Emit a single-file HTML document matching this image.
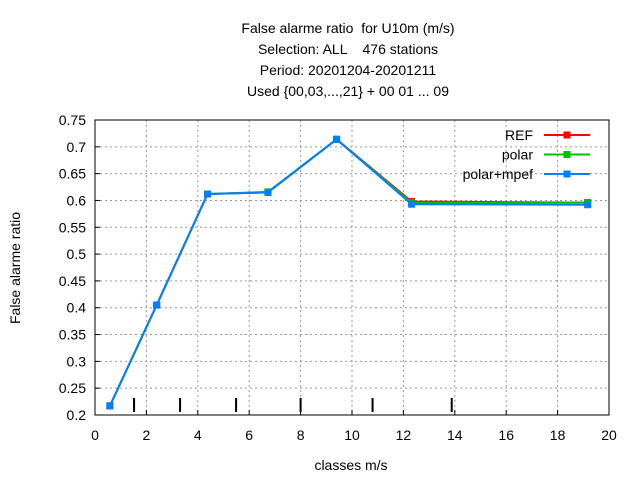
<!DOCTYPE html>
<html><head><meta charset="utf-8"><style>
body{margin:0;background:#fff;}
svg text{font-family:"Liberation Sans",sans-serif;font-size:14px;fill:#000;white-space:pre;}
</style></head><body>
<svg id="chart" width="640" height="480" xmlns="http://www.w3.org/2000/svg">
<rect width="640" height="480" fill="#fff"/>
<g text-anchor="middle">
<text x="348" y="33" xml:space="preserve">False alarme ratio  for U10m (m/s)</text>
<text x="348" y="54" xml:space="preserve">Selection: ALL    476 stations</text>
<text x="348" y="75">Period: 20201204-20201211</text>
<text x="348" y="96">Used {00,03,...,21} + 00 01 ... 09</text>
</g>
<g id="grid"></g>
<g id="axes"></g>
<g id="series"></g>
<g id="legend"></g>
<text x="351" y="470" text-anchor="middle">classes m/s</text>
<text transform="translate(20,268) rotate(-90)" text-anchor="middle">False alarme ratio</text>
</svg>
<script>
const xTicks=[0,2,4,6,8,10,12,14,16,18,20];
const yTicks=[0.2,0.25,0.3,0.35,0.4,0.45,0.5,0.55,0.6,0.65,0.7,0.75];
const classBounds=[1.52,3.31,5.49,8.0,10.8,13.88];
const xVals=[0.58,2.4,4.38,6.73,9.4,12.32,19.17];
const refVals=[0.217,0.405,0.612,0.615,0.714,0.598,0.596];
const polarVals=[0.217,0.405,0.612,0.616,0.714,0.596,0.596];
const mpefVals=[0.217,0.405,0.612,0.615,0.714,0.593,0.592];
const seriesNames=["REF","polar","polar+mpef"];
const NS="http://www.w3.org/2000/svg";
const L=95,R=609,T=120,B=415;
const sx=v=>L+(v-0)/(20-0)*(R-L);
const sy=v=>B-(v-0.2)/(0.75-0.2)*(B-T);
function mk(tag,attrs,parent){const e=document.createElementNS(NS,tag);for(const k in attrs)e.setAttribute(k,attrs[k]);parent.appendChild(e);return e;}
const grid=document.getElementById('grid'),axes=document.getElementById('axes');
xTicks.forEach(t=>{
 if(t>0&&t<20){const g=mk('line',{x1:sx(t),x2:sx(t),y1:T,y2:B,stroke:'#999','stroke-dasharray':'2,3','stroke-width':1},grid);
 }
 const tl=mk('line',{x1:sx(t),x2:sx(t),y1:B,y2:B-5,stroke:'#000'},axes);
 
 const tx=mk('text',{x:sx(t),y:B+25,'text-anchor':'middle'},axes);tx.textContent=t;
 
});
yTicks.forEach(t=>{
 if(t>0.2&&t<0.75){const g=mk('line',{x1:L,x2:R,y1:sy(t),y2:sy(t),stroke:'#999','stroke-dasharray':'2,3','stroke-width':1},grid);
 }
 const tl=mk('line',{x1:L,x2:L+5,y1:sy(t),y2:sy(t),stroke:'#000'},axes);
 
 const tx=mk('text',{x:L-9,y:sy(t)+5,'text-anchor':'end'},axes);tx.textContent=t;
 
});
classBounds.forEach(b=>{
 const c=mk('line',{x1:sx(b),x2:sx(b),y1:398,y2:412,stroke:'#000','stroke-width':2},axes);
 
});
const fr=mk('rect',{x:L,y:T,width:R-L,height:B-T,fill:'none',stroke:'#000'},axes);

const ser=document.getElementById('series'),leg=document.getElementById('legend');
const colors=['#ff0000','#00c000','#0080ff'];
[refVals,polarVals,mpefVals].forEach((vals,i)=>{
 const g=mk('g',{},ser);
 
 const pl=mk('polyline',{points:vals.map((v,j)=>sx(xVals[j])+','+sy(v)).join(' '),fill:'none',stroke:colors[i],'stroke-width':2},g);
 
 vals.forEach((v,j)=>{const p=mk('rect',{x:sx(xVals[j])-3.5,y:sy(v)-3.5,width:7,height:7,fill:colors[i]},g);
  });
 const ly=135+i*19.5;
 const le=mk('g',{},leg);
 
 const t=mk('text',{x:533,y:ly+5,'text-anchor':'end'},le);t.textContent=seriesNames[i];
 mk('line',{x1:544,x2:590,y1:ly,y2:ly,stroke:colors[i],'stroke-width':2},le);
 mk('rect',{x:563.5,y:ly-3.5,width:7,height:7,fill:colors[i]},le);
});
</script>
</body></html>
